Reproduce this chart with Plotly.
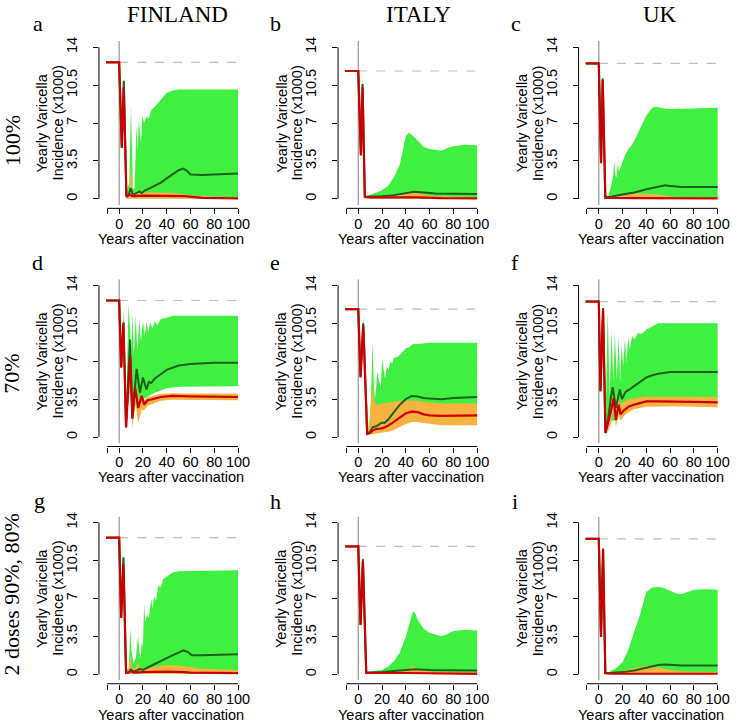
import plotly.graph_objects as go

W, H = 739, 727

COUNTRIES = ["FINLAND", "ITALY", "UK"]
SCENARIOS = ["100%", "70%", "2 doses 90%, 80%"]
LETTERS = ["a", "b", "c", "d", "e", "f", "g", "h", "i"]
BASELINES = [12.6, 11.8, 12.5]          # pre-vaccination yearly incidence (x1000)
PRE_X = [-11, 0]                         # pre-vaccination years
X_TICKS = [-10, 0, 20, 40, 60, 80, 100]
X_TICK_TEXT = ["", "0", "20", "40", "60", "80", "100"]
Y_TICKS = [0, 3.5, 7, 10.5, 14]
Y_TICK_TEXT = ["0", "3.5", "7", "10.5", "14"]
X_TITLE = "Years after vaccination"
Y_TITLE_LINES = ["Yearly Varicella", "Incidence (x1000)"]

# ---------------- panel a: FINLAND 100% ----------------
a_red_x = [2.2, 3.9, 6.1, 9, 10.5, 12, 20, 40, 55, 70, 100]
a_red_y = [4.7, 10.3, 0.2, 0.4, 0.3, 0.25, 0.3, 0.3, 0.25, 0.1, 0.05]
a_line_x = [2.2, 3.9, 6.1, 8, 9.8, 11.5, 14, 17, 19, 22, 26, 30, 35, 40, 45, 50, 54, 57, 60, 70, 100]
a_line_y = [4.8, 10.9, 0.25, 0.4, 1.0, 0.35, 0.5, 0.7, 0.55, 0.8, 1.0, 1.2, 1.5, 1.9, 2.3, 2.65, 2.8, 2.6, 2.25, 2.2, 2.35]
a_ghi_x = [2.2, 3.9, 6.1, 8.5, 10, 10.8, 11.5, 13, 14.5, 15.5, 16.5, 18.3, 19.5, 21, 23, 25, 27, 30, 33, 36, 40, 45, 50, 100]
a_ghi_y = [5.0, 11.3, 0.5, 1.5, 8.7, 4.0, 0.9, 1.0, 6.8, 4.5, 7.3, 5.1, 7.7, 7.0, 7.6, 7.4, 8.2, 8.5, 8.9, 9.3, 9.8, 10.0, 10.1, 10.1]
a_glo_x = [2.2, 3.9, 6.1, 100]
a_glo_y = [4.5, 9.8, 0.05, 0.03]
a_ohi_x = [2.2, 3.9, 6.1, 8.5, 9.8, 11, 13, 16, 20, 40, 50, 60, 80, 100]
a_ohi_y = [4.8, 10.5, 0.35, 0.5, 3.0, 0.6, 0.5, 0.8, 0.6, 0.6, 0.5, 0.35, 0.2, 0.15]
a_olo_x = [2.2, 3.9, 6.1, 100]
a_olo_y = [4.6, 10.0, 0.05, 0.02]

# ---------------- panel b: ITALY 100% ----------------
b_red_x = [2.2, 3.6, 5.5, 10, 30, 50, 70, 100]
b_red_y = [4.0, 10.3, 0.2, 0.15, 0.15, 0.15, 0.08, 0.05]
b_line_x = [2.2, 3.6, 5.5, 10, 20, 30, 40, 47, 55, 65, 80, 100]
b_line_y = [4.1, 10.6, 0.2, 0.2, 0.25, 0.35, 0.55, 0.65, 0.6, 0.5, 0.47, 0.45]
b_ghi_x = [2.2, 3.6, 5.5, 8, 12, 16, 20, 25, 30, 35, 38, 40, 42.5, 45, 50, 55, 60, 70, 75, 80, 90, 100]
b_ghi_y = [4.2, 11.3, 0.3, 0.3, 0.45, 0.6, 0.8, 1.2, 2.0, 3.2, 4.7, 5.8, 6.1, 5.9, 5.4, 4.8, 4.6, 4.45, 4.7, 4.85, 5.0, 4.95]
b_glo_x = [2.2, 3.6, 5.5, 100]
b_glo_y = [3.9, 10.0, 0.05, 0.03]
b_ohi_x = [2.2, 3.6, 5.5, 20, 30, 40, 46, 50, 60, 100]
b_ohi_y = [4.1, 10.4, 0.25, 0.2, 0.3, 0.6, 0.75, 0.55, 0.3, 0.15]
b_olo_x = [2.2, 3.6, 5.5, 100]
b_olo_y = [3.95, 10.1, 0.05, 0.02]

# ---------------- panel c: UK 100% ----------------
c_red_x = [1.9, 3.3, 5.5, 10, 30, 60, 100]
c_red_y = [3.3, 11.0, 0.12, 0.1, 0.08, 0.06, 0.05]
c_line_x = [1.9, 3.3, 5.5, 10, 20, 30, 40, 50, 56, 60, 70, 100]
c_line_y = [3.4, 11.1, 0.15, 0.2, 0.4, 0.6, 0.9, 1.15, 1.25, 1.2, 1.1, 1.1]
c_ghi_x = [1.9, 3.3, 5.5, 8, 10, 12, 13, 14, 15, 16, 17, 18, 20, 22, 25, 28, 30, 35, 40, 45, 48, 55, 60, 100]
c_ghi_y = [3.5, 11.4, 0.3, 0.3, 1.0, 2.0, 3.4, 2.2, 2.0, 3.3, 2.5, 2.8, 3.5, 4.0, 4.6, 5.0, 5.4, 6.6, 7.7, 8.4, 8.5, 8.35, 8.3, 8.4]
c_glo_x = [1.9, 3.3, 5.5, 100]
c_glo_y = [3.2, 10.6, 0.05, 0.03]
c_ohi_x = [1.9, 3.3, 5.5, 10, 20, 30, 40, 50, 60, 70, 100]
c_ohi_y = [3.4, 11.1, 0.2, 0.2, 0.4, 0.5, 0.48, 0.4, 0.22, 0.15, 0.1]
c_olo_x = [1.9, 3.3, 5.5, 100]
c_olo_y = [3.25, 10.8, 0.05, 0.02]

# ---------------- panel d: FINLAND 70% ----------------
d_red_x = [1.7, 3.6, 5.8, 9.2, 11.1, 13.3, 16, 19, 21, 24, 28, 35, 45, 60, 100]
d_red_y = [6.4, 10.5, 0.9, 7.4, 1.7, 4.6, 2.7, 3.8, 3.0, 3.4, 3.5, 3.7, 3.8, 3.75, 3.7]
d_line_x = [1.7, 3.6, 5.8, 9.2, 11.1, 14.7, 17.5, 20, 23, 25, 27, 30, 35, 40, 50, 60, 80, 100]
d_line_y = [6.5, 10.6, 0.9, 9.0, 1.9, 6.3, 4.1, 5.5, 4.4, 5.1, 5.0, 5.4, 5.8, 6.2, 6.6, 6.75, 6.85, 6.85]
d_ghi_x = [1.7, 3.6, 5.8, 7.8, 9.2, 10.2, 11.1, 12.3, 13.9, 15.3, 17, 18.3, 20, 21.5, 23, 24.5, 26, 28, 30, 32, 35, 40, 45, 50, 100]
d_ghi_y = [6.7, 11.9, 1.5, 12.2, 10.0, 7.0, 11.5, 7.5, 11.2, 8.0, 10.9, 8.8, 10.7, 9.3, 10.6, 9.6, 10.6, 10.0, 10.7, 10.3, 10.9, 11.0, 11.2, 11.2, 11.2]
d_glo_x = [1.7, 3.6, 5.8, 9.2, 11.1, 14, 17, 20, 25, 30, 40, 50, 60, 100]
d_glo_y = [6.2, 10.2, 0.6, 5.0, 1.2, 3.0, 3.0, 3.5, 3.8, 4.1, 4.5, 4.65, 4.7, 4.7]
d_ohi_x = [1.7, 3.6, 5.8, 9.2, 11.1, 13.3, 16, 19, 21, 24, 28, 35, 45, 60, 100]
d_ohi_y = [6.6, 10.6, 1.2, 7.6, 2.4, 4.9, 3.3, 4.1, 3.4, 3.7, 3.8, 4.0, 4.05, 4.05, 4.0]
d_olo_x = [1.7, 3.6, 5.8, 9.2, 11.1, 13.3, 16, 19, 21, 24, 28, 35, 45, 60, 100]
d_olo_y = [6.2, 10.3, 0.6, 6.0, 0.8, 3.5, 1.3, 2.5, 2.5, 2.9, 3.1, 3.35, 3.45, 3.45, 3.4]

# ---------------- panel e: ITALY 70% ----------------
e_red_x = [1.9, 4.2, 7.5, 10, 12, 15, 20, 25, 30, 35, 40, 45, 50, 55, 60, 70, 100]
e_red_y = [5.5, 10.3, 0.3, 0.4, 0.6, 0.75, 0.8, 1.05, 1.4, 1.8, 2.2, 2.35, 2.3, 2.1, 2.0, 1.95, 2.0]
e_line_x = [1.9, 4.2, 7.5, 10, 12, 15, 18, 20, 22, 25, 30, 35, 40, 45, 50, 55, 60, 70, 80, 90, 100]
e_line_y = [5.6, 10.5, 0.3, 0.5, 0.9, 1.0, 1.2, 1.35, 1.3, 1.6, 2.3, 3.0, 3.5, 3.8, 3.75, 3.6, 3.55, 3.5, 3.6, 3.65, 3.7]
e_ghi_x = [1.9, 4.2, 7.5, 9, 10.5, 12, 13, 14, 15, 16, 17.5, 19, 20, 21, 22.5, 24, 25.5, 27, 28.5, 30, 33, 36, 40, 43, 46, 50, 60, 100]
e_ghi_y = [5.7, 11.2, 0.4, 0.6, 3.0, 8.8, 5.0, 3.5, 4.5, 6.0, 5.2, 4.5, 7.2, 6.5, 5.4, 6.5, 6.2, 7.0, 6.8, 7.3, 7.4, 7.7, 8.2, 8.3, 8.6, 8.6, 8.7, 8.7]
e_glo_x = [1.9, 4.2, 7.5, 10, 15, 20, 30, 40, 50, 60, 100]
e_glo_y = [5.4, 10.0, 0.2, 2.0, 2.8, 3.0, 3.1, 3.2, 3.2, 3.0, 3.0]
e_ohi_x = [1.9, 4.2, 7.5, 9, 11, 12, 13, 15, 20, 25, 30, 35, 40, 45, 50, 60, 70, 100]
e_ohi_y = [5.6, 10.4, 0.4, 1.0, 3.5, 4.8, 3.5, 3.0, 3.1, 3.2, 3.3, 3.35, 3.4, 3.4, 3.35, 3.2, 3.1, 3.1]
e_olo_x = [1.9, 4.2, 7.5, 10, 15, 20, 25, 30, 35, 40, 45, 50, 55, 60, 70, 100]
e_olo_y = [5.4, 10.2, 0.2, 0.25, 0.35, 0.4, 0.5, 0.65, 0.9, 1.2, 1.4, 1.4, 1.3, 1.2, 1.1, 1.1]

# ---------------- panel f: UK 70% ----------------
f_red_x = [1.4, 3.6, 5.6, 8, 10.3, 12.5, 14.4, 16.7, 18.3, 21.4, 25, 30, 40, 50, 60, 80, 100]
f_red_y = [4.2, 11.8, 0.37, 1.3, 2.4, 3.6, 1.6, 3.0, 2.1, 2.5, 2.8, 3.0, 3.3, 3.3, 3.3, 3.25, 3.2]
f_line_x = [1.4, 3.6, 5.6, 8, 10, 11.7, 14.4, 17.8, 19.4, 22.8, 26, 30, 35, 40, 45, 50, 60, 100]
f_line_y = [4.3, 11.9, 0.4, 1.8, 3.5, 4.6, 2.7, 4.4, 3.5, 4.2, 4.4, 4.7, 5.1, 5.5, 5.7, 5.85, 6.0, 6.0]
f_ghi_x = [1.4, 3.6, 5.6, 7.5, 9.2, 10.8, 12.2, 13.6, 15.1, 16.7, 18, 19.2, 20.5, 21.9, 23.3, 24.7, 26, 28, 30, 33, 36, 40, 45, 50, 100]
f_ghi_y = [4.4, 12.2, 0.6, 11.6, 3.8, 9.9, 5.0, 9.6, 5.3, 9.2, 5.0, 8.7, 6.5, 9.0, 6.8, 9.2, 8.0, 9.3, 9.0, 9.6, 9.5, 9.9, 10.2, 10.5, 10.5]
f_glo_x = [1.4, 3.6, 5.6, 10, 15, 20, 25, 30, 40, 50, 60, 100]
f_glo_y = [4.1, 11.4, 0.3, 1.5, 1.5, 2.8, 3.2, 3.4, 3.6, 3.65, 3.65, 3.6]
f_ohi_x = [1.4, 3.6, 5.6, 8, 10.3, 12.5, 14.4, 16.7, 18.3, 21.4, 25, 30, 40, 60, 100]
f_ohi_y = [4.3, 11.9, 0.8, 2.0, 3.4, 4.0, 2.5, 3.6, 3.0, 3.3, 3.5, 3.6, 3.75, 3.75, 3.7]
f_olo_x = [1.4, 3.6, 5.6, 8, 10.3, 12.5, 14.4, 16.7, 18.3, 21.4, 25, 30, 40, 60, 100]
f_olo_y = [4.1, 11.6, 0.2, 0.6, 1.2, 2.5, 0.95, 2.0, 1.5, 2.0, 2.3, 2.6, 2.8, 2.85, 2.75]

# ---------------- panel g: FINLAND 2 doses ----------------
g_red_x = [1.7, 3.6, 5.8, 8, 10, 12, 20, 40, 55, 60, 100]
g_red_y = [5.2, 10.2, 0.15, 0.15, 0.3, 0.15, 0.2, 0.25, 0.2, 0.15, 0.1]
g_line_x = [1.7, 3.6, 5.8, 8, 10, 12, 15, 17, 20, 25, 30, 40, 50, 54, 58, 61, 70, 100]
g_line_y = [5.3, 10.8, 0.15, 0.2, 0.45, 0.25, 0.35, 0.5, 0.4, 0.7, 0.95, 1.5, 2.0, 2.2, 2.05, 1.75, 1.75, 1.85]
g_ghi_x = [1.7, 3.6, 5.8, 8, 9.5, 10.5, 12, 14, 16, 17, 18, 19, 20, 21, 22, 23.5, 25, 27, 28, 29.5, 31, 33, 35, 37, 40, 45, 50, 100]
g_ghi_y = [5.4, 11.2, 0.4, 0.6, 4.2, 2.0, 1.0, 1.5, 3.5, 2.0, 1.5, 3.0, 2.5, 6.5, 4.8, 5.5, 5.2, 7.0, 6.0, 7.2, 6.8, 8.2, 8.0, 8.8, 9.0, 9.4, 9.5, 9.6]
g_glo_x = [1.7, 3.6, 5.8, 100]
g_glo_y = [5.0, 9.8, 0.1, 0.1]
g_ohi_x = [1.7, 3.6, 5.8, 8, 9.5, 11, 13, 16, 18, 20, 25, 30, 40, 50, 60, 70, 100]
g_ohi_y = [5.3, 10.5, 0.3, 0.4, 1.7, 0.6, 0.5, 1.0, 0.5, 0.5, 0.6, 0.7, 0.85, 0.8, 0.65, 0.5, 0.4]
g_olo_x = [1.7, 3.6, 5.8, 100]
g_olo_y = [5.1, 10.0, 0.05, 0.03]

# ---------------- panel h: ITALY 2 doses ----------------
h_red_x = [1.9, 3.9, 6.7, 10, 40, 60, 100]
h_red_y = [4.55, 10.4, 0.15, 0.12, 0.12, 0.08, 0.03]
h_line_x = [1.9, 3.9, 6.7, 10, 20, 30, 40, 48, 60, 100]
h_line_y = [4.6, 10.6, 0.15, 0.15, 0.2, 0.3, 0.4, 0.46, 0.4, 0.35]
h_ghi_x = [1.9, 3.9, 6.7, 10, 15, 20, 25, 30, 35, 40, 44, 46, 48, 50, 55, 60, 70, 75, 80, 90, 100]
h_ghi_y = [4.7, 11.3, 0.2, 0.25, 0.35, 0.4, 0.7, 1.2, 2.0, 3.5, 5.0, 5.8, 5.6, 5.0, 4.2, 3.8, 3.5, 3.7, 4.0, 4.1, 4.05]
h_glo_x = [1.9, 3.9, 6.7, 100]
h_glo_y = [4.4, 10.0, 0.05, 0.03]
h_ohi_x = [1.9, 3.9, 6.7, 20, 30, 40, 46, 50, 60, 100]
h_ohi_y = [4.6, 10.5, 0.2, 0.2, 0.2, 0.4, 0.75, 0.5, 0.25, 0.15]
h_olo_x = [1.9, 3.9, 6.7, 100]
h_olo_y = [4.45, 10.1, 0.05, 0.02]

# ---------------- panel i: UK 2 doses ----------------
i_red_x = [1.9, 3.6, 5.5, 10, 100]
i_red_y = [3.45, 11.5, 0.1, 0.05, 0.05]
i_line_x = [1.9, 3.6, 5.5, 10, 20, 30, 40, 50, 56, 60, 70, 100]
i_line_y = [3.5, 11.6, 0.12, 0.12, 0.2, 0.35, 0.6, 0.85, 0.9, 0.88, 0.82, 0.8]
i_ghi_x = [1.9, 3.6, 5.5, 8, 10, 15, 20, 25, 30, 35, 40, 45, 50, 55, 60, 65, 70, 75, 80, 90, 100]
i_ghi_y = [3.6, 11.8, 0.15, 0.15, 0.3, 0.6, 1.1, 2.3, 4.0, 5.6, 7.6, 8.0, 8.05, 7.95, 7.7, 7.45, 7.4, 7.6, 7.8, 7.85, 7.8]
i_glo_x = [1.9, 3.6, 5.5, 100]
i_glo_y = [3.3, 11.2, 0.03, 0.03]
i_ohi_x = [1.9, 3.6, 5.5, 10, 20, 30, 40, 50, 60, 70, 100]
i_ohi_y = [3.5, 11.6, 0.12, 0.12, 0.35, 0.6, 0.78, 0.65, 0.4, 0.25, 0.2]
i_olo_x = [1.9, 3.6, 5.5, 100]
i_olo_y = [3.35, 11.3, 0.03, 0.02]

PANELS = [
    (a_red_x, a_red_y, a_line_x, a_line_y, a_ghi_x, a_ghi_y, a_glo_x, a_glo_y, a_ohi_x, a_ohi_y, a_olo_x, a_olo_y),
    (b_red_x, b_red_y, b_line_x, b_line_y, b_ghi_x, b_ghi_y, b_glo_x, b_glo_y, b_ohi_x, b_ohi_y, b_olo_x, b_olo_y),
    (c_red_x, c_red_y, c_line_x, c_line_y, c_ghi_x, c_ghi_y, c_glo_x, c_glo_y, c_ohi_x, c_ohi_y, c_olo_x, c_olo_y),
    (d_red_x, d_red_y, d_line_x, d_line_y, d_ghi_x, d_ghi_y, d_glo_x, d_glo_y, d_ohi_x, d_ohi_y, d_olo_x, d_olo_y),
    (e_red_x, e_red_y, e_line_x, e_line_y, e_ghi_x, e_ghi_y, e_glo_x, e_glo_y, e_ohi_x, e_ohi_y, e_olo_x, e_olo_y),
    (f_red_x, f_red_y, f_line_x, f_line_y, f_ghi_x, f_ghi_y, f_glo_x, f_glo_y, f_ohi_x, f_ohi_y, f_olo_x, f_olo_y),
    (g_red_x, g_red_y, g_line_x, g_line_y, g_ghi_x, g_ghi_y, g_glo_x, g_glo_y, g_ohi_x, g_ohi_y, g_olo_x, g_olo_y),
    (h_red_x, h_red_y, h_line_x, h_line_y, h_ghi_x, h_ghi_y, h_glo_x, h_glo_y, h_ohi_x, h_ohi_y, h_olo_x, h_olo_y),
    (i_red_x, i_red_y, i_line_x, i_line_y, i_ghi_x, i_ghi_y, i_glo_x, i_glo_y, i_ohi_x, i_ohi_y, i_olo_x, i_olo_y),
]

# ---------------- styling / layout ----------------
GREEN_FILL = "rgb(64,240,64)"
ORANGE_FILL = "rgb(248,178,64)"
GREEN_LINE = "rgb(28,96,28)"
RED_LINE = "rgb(205,0,0)"
SANS = "Liberation Sans"
SERIF = "Liberation Serif"

COL_X0 = [120.3, 361.7, 604.5]   # pixel of year 0 per column
ROW_Y0 = [196.0, 435.5, 674.0]   # pixel of value 0 per row
PXU, PYU = 1.2, 10.9
XMIN, XMAX = -17.0, 104.4
YMIN, YMAX = -0.87, 14.56
Y_TITLE_OFFSETS = [57, 41]       # px left of the y-axis line for the two title lines


def full(base, xs, ys):
    return PRE_X + list(xs), [base, base] + list(ys)


fig = go.Figure()
layout = dict(width=W, height=H, autosize=False, margin=dict(l=0, r=0, t=0, b=0),
              paper_bgcolor="white", plot_bgcolor="white", showlegend=False,
              font=dict(family=SANS, color="black"))
shapes, annotations = [], []

for k, p in enumerate(PANELS):
    r, c = divmod(k, 3)
    base = BASELINES[c]
    sfx = "" if k == 0 else str(k + 1)
    xa, ya = "x" + sfx, "y" + sfx
    x0p, y0p = COL_X0[c], ROW_Y0[r]
    left, right = x0p + XMIN * PXU, x0p + XMAX * PXU
    top, bottom = y0p - YMAX * PYU, y0p - YMIN * PYU

    layout["xaxis" + sfx] = dict(domain=[left / W, right / W], range=[XMIN, XMAX], anchor=ya,
                                 tickvals=X_TICKS, ticktext=X_TICK_TEXT, ticks="outside", ticklen=5,
                                 tickcolor="black", showgrid=False, zeroline=False, showline=False,
                                 ticklabelstandoff=-3,
                                 tickfont=dict(family=SANS, size=14.5, color="black"))
    layout["yaxis" + sfx] = dict(domain=[1 - bottom / H, 1 - top / H], range=[YMIN, YMAX], anchor=xa,
                                 tickvals=Y_TICKS, ticktext=Y_TICK_TEXT, ticks="outside", ticklen=5,
                                 tickcolor="black", tickangle=-90, showgrid=False, zeroline=False,
                                 showline=False, ticklabelstandoff=10,
                                 tickfont=dict(family=SANS, size=14.5, color="black"))

    rx, ry, lx, ly, ghx, ghy, glx, gly, ohx, ohy, olx, oly = p
    ghx, ghy = full(base, ghx, ghy)
    glx, gly = full(base, glx, gly)
    ohx, ohy = full(base, ohx, ohy)
    olx, oly = full(base, olx, oly)
    rx, ry = full(base, rx, ry)
    lx, ly = full(base, lx, ly)

    fig.add_trace(go.Scatter(x=ghx + glx[::-1], y=ghy + gly[::-1], fill="toself", fillcolor=GREEN_FILL,
                             line=dict(width=0), mode="lines", xaxis=xa, yaxis=ya, hoverinfo="skip"))
    fig.add_trace(go.Scatter(x=ohx + olx[::-1], y=ohy + oly[::-1], fill="toself", fillcolor=ORANGE_FILL,
                             line=dict(width=0), mode="lines", xaxis=xa, yaxis=ya, hoverinfo="skip"))
    fig.add_trace(go.Scatter(x=lx, y=ly, mode="lines", line=dict(color=GREEN_LINE, width=2),
                             xaxis=xa, yaxis=ya))
    fig.add_trace(go.Scatter(x=rx, y=ry, mode="lines", line=dict(color=RED_LINE, width=2.2),
                             xaxis=xa, yaxis=ya))

    # reference lines
    shapes.append(dict(type="line", xref=xa, yref=ya, x0=0, x1=0, y0=-0.56, y1=YMAX,
                       line=dict(color="rgb(150,150,150)", width=1.2), layer="below"))
    shapes.append(dict(type="line", xref=xa, yref=ya, x0=0, x1=XMAX, y0=base, y1=base,
                       line=dict(color="rgb(190,190,190)", width=1.2, dash="dash"), layer="below"))
    # R-style axis lines spanning the ticks
    shapes.append(dict(type="line", xref=xa + " domain", yref=ya, x0=0, x1=0, y0=Y_TICKS[0], y1=Y_TICKS[-1],
                       line=dict(color="black", width=1)))
    shapes.append(dict(type="line", xref=xa, yref=ya + " domain", x0=X_TICKS[0], x1=X_TICKS[-1], y0=0, y1=0,
                       line=dict(color="black", width=1)))

    # axis titles
    for line_text, off in zip(Y_TITLE_LINES, Y_TITLE_OFFSETS):
        annotations.append(dict(text=line_text, xref="paper", yref="paper", x=(left - off) / W,
                                y=1 - (y0p - 7 * PYU) / H, xanchor="center", yanchor="middle",
                                textangle=-90, showarrow=False, font=dict(family=SANS, size=14.5)))
    annotations.append(dict(text=X_TITLE, xref="paper", yref="paper", x=(x0p + 44 * PXU) / W,
                            y=1 - (bottom + 31) / H, xanchor="center", yanchor="middle",
                            showarrow=False, font=dict(family=SANS, size=14.5)))

LETTER_POS = [(38, 20), (278, 20), (521, 20), (38, 260), (278, 260), (520, 260),
              (40, 499), (278, 500), (520, 500)]
for L, (px, py) in zip(LETTERS, LETTER_POS):
    annotations.append(dict(text=L, xref="paper", yref="paper", x=px / W, y=1 - py / H,
                            xanchor="center", yanchor="middle", showarrow=False,
                            font=dict(family=SERIF, size=22)))

for name, px in zip(COUNTRIES, [178.7, 422.5, 666.7]):
    annotations.append(dict(text=name, xref="paper", yref="paper", x=px / W, y=1 - 11 / H,
                            xanchor="center", yanchor="middle", showarrow=False,
                            font=dict(family=SERIF, size=23)))

for name, py in zip(SCENARIOS, [137, 372, 593]):
    annotations.append(dict(text=name, xref="paper", yref="paper", x=12 / W, y=1 - py / H,
                            xanchor="center", yanchor="middle", textangle=-90, showarrow=False,
                            font=dict(family=SERIF, size=22)))

layout["shapes"] = shapes
layout["annotations"] = annotations
fig.update_layout(**layout)
fig.write_html("out.html", config={"displayModeBar": False, "staticPlot": True})

# remove the browser's default page margin so the figure sits at the window origin
with open("out.html", encoding="utf-8") as fh:
    html = fh.read()
html = html.replace("<head>", "<head><style>html,body{margin:0;padding:0;overflow:hidden;}</style>", 1)
with open("out.html", "w", encoding="utf-8") as fh:
    fh.write(html)
